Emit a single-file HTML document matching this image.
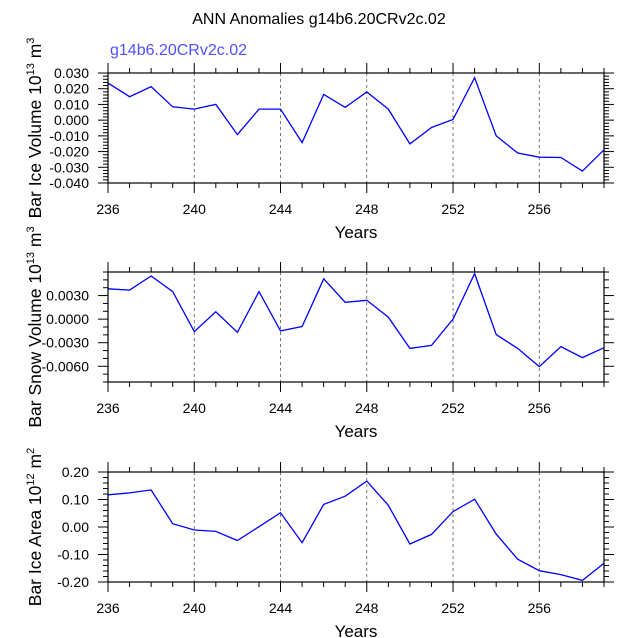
<!DOCTYPE html>
<html><head><meta charset="utf-8"><style>
body{margin:0;background:#fff;}
svg{display:block;font-family:"Liberation Sans",sans-serif;}
</style></head><body>
<svg id="chart" width="638" height="638" viewBox="0 0 638 638" xmlns="http://www.w3.org/2000/svg">
<text x="319" y="24" font-size="16" text-anchor="middle">ANN Anomalies g14b6.20CRv2c.02</text>
<text x="110" y="55" font-size="16" fill="#5050ff">g14b6.20CRv2c.02</text>
</svg>
<script>
const years = [236,237,238,239,240,241,242,243,244,245,246,247,248,249,250,251,252,253,254,255,256,257,258,259];
const iceVolume = [0.0236,0.0149,0.0213,0.0085,0.0070,0.0100,-0.0092,0.0070,0.0070,-0.0143,0.0164,0.0081,0.0179,0.0070,-0.0151,-0.0047,0.0004,0.0270,-0.0100,-0.0209,-0.0236,-0.0238,-0.0324,-0.0189];
const snowVolume = [0.00386,0.00369,0.00549,0.00351,-0.00159,0.00094,-0.00167,0.00351,-0.0015,-0.00094,0.00514,0.00214,0.0024,0.00026,-0.00373,-0.00334,0.0,0.00579,-0.00197,-0.00373,-0.00604,-0.00351,-0.0049,-0.00364];
const iceArea = [0.117,0.124,0.135,0.012,-0.011,-0.016,-0.049,0.001,0.052,-0.057,0.082,0.112,0.167,0.079,-0.062,-0.027,0.056,0.101,-0.026,-0.117,-0.159,-0.173,-0.194,-0.132];
const xTickLabels = ["236","240","244","248","252","256"];
const iceVolTicks = ["0.030","0.020","0.010","0.000","-0.010","-0.020","-0.030","-0.040"];
const snowVolTicks = ["0.0030","0.0000","-0.0030","-0.0060"];
const iceAreaTicks = ["0.20","0.10","0.00","-0.10","-0.20"];

const NS="http://www.w3.org/2000/svg";
const svg=document.getElementById('chart');
function mk(tag,attrs,parent){const e=document.createElementNS(NS,tag);for(const k in attrs)e.setAttribute(k,attrs[k]);(parent||svg).appendChild(e);return e;}
const L=108,R=604,X0=236,X1=259;
function xs(v){return L+(v-X0)/(X1-X0)*(R-L);}

function panel(key,top,bot,ymin,ymax,minorStep,ticks,vals,titleMain,sup){
  const g=mk('g',{});
  
  
  const ys=v=>bot-(v-ymin)/(ymax-ymin)*(bot-top);
  xTickLabels.forEach(t=>{const v=+t;if(v>X0){const l=mk('line',{x1:xs(v),x2:xs(v),y1:top,y2:bot,stroke:'#555','stroke-width':0.8,'stroke-dasharray':'3,3'},g);
    
    }});
  for(let v=X0;v<=X1;v++){const mj=(v-X0)%4===0;const len=mj?10:5;
    mk('line',{x1:xs(v),x2:xs(v),y1:bot,y2:bot+len,stroke:'#000','stroke-width':1},g);
    mk('line',{x1:xs(v),x2:xs(v),y1:top,y2:top-len,stroke:'#000','stroke-width':1},g);}
  const n=Math.round((ymax-ymin)/minorStep);
  const majorVals=ticks.map(Number);
  for(let i=0;i<=n;i++){const v=ymin+i*minorStep;const mj=majorVals.some(m=>Math.abs(m-v)<minorStep*0.1);const len=mj?10:5;
    mk('line',{x1:L-len,x2:L,y1:ys(v),y2:ys(v),stroke:'#000','stroke-width':1},g);
    mk('line',{x1:R,x2:R+len,y1:ys(v),y2:ys(v),stroke:'#000','stroke-width':1},g);}
  ticks.forEach(t=>{const tx=mk('text',{x:L-19,y:ys(+t)+5,'font-size':14,'text-anchor':'end'},g);tx.textContent=t;
    
    });
  xTickLabels.forEach(t=>{const tx=mk('text',{x:xs(+t),y:bot+31,'font-size':14,'text-anchor':'middle'},g);tx.textContent=t;
    
    });
  const xt=mk('text',{x:(L+R)/2,y:bot+55,'font-size':17,'text-anchor':'middle'},g);xt.textContent='Years';
  
  
  const cy=(top+bot)/2;
  const yt=mk('text',{x:0,y:0,'font-size':17.5,'text-anchor':'middle',transform:`translate(41,${cy}) rotate(-90)`},g);
  
  
  yt.appendChild(document.createTextNode(titleMain+' 10'));
  const s1=mk('tspan',{'font-size':11,dy:-7},yt);s1.textContent=sup;
  const s2=mk('tspan',{dy:7},yt);s2.textContent=' m';
  const s3=mk('tspan',{'font-size':11,dy:-7},yt);s3.textContent=key==='ice-area'?'2':'3';
  const pts=vals.map((v,i)=>xs(years[i]).toFixed(1)+','+ys(v).toFixed(1)).join(' ');
  const pl=mk('polyline',{points:pts,fill:'none',stroke:'#0000ff','stroke-width':1.3},g);
  
  
  const fr=mk('rect',{x:L,y:top,width:R-L,height:bot-top,fill:'none',stroke:'#000','stroke-width':1.2},g);
  
  
}
panel('ice-volume',73,183,-0.040,0.030,0.002,iceVolTicks,iceVolume,'Bar Ice Volume','13');
panel('snow-volume',272,382,-0.008,0.006,0.001,snowVolTicks,snowVolume,'Bar Snow Volume','13');
panel('ice-area',472,582,-0.20,0.20,0.02,iceAreaTicks,iceArea,'Bar Ice Area','12');
</script>
</body></html>
